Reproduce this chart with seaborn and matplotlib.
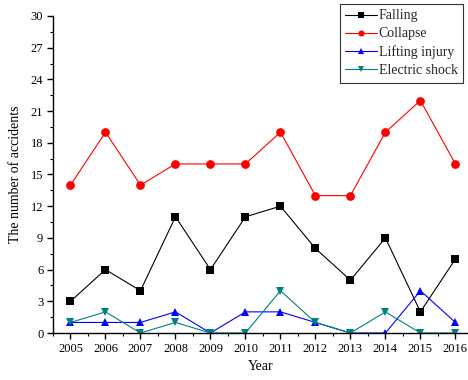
import matplotlib
matplotlib.use("Agg")
import matplotlib.pyplot as plt
from matplotlib.ticker import MultipleLocator
import pandas as pd
import seaborn as sns

years = list(range(2005, 2017))
falling = [3, 6, 4, 11, 6, 11, 12, 8, 5, 9, 2, 7]
collapse = [14, 19, 14, 16, 16, 16, 19, 13, 13, 19, 22, 16]
lifting = [1, 1, 1, 2, 0, 2, 2, 1, 0, 0, 4, 1]
electric = [1, 2, 0, 1, 0, 0, 4, 1, 0, 2, 0, 0]

series_names = ["Falling", "Collapse", "Lifting injury", "Electric shock"]
series_values = [falling, collapse, lifting, electric]

frames = []
for name, vals in zip(series_names, series_values):
    frames.append(pd.DataFrame({"Year": years, "Accidents": vals, "Type": name}))
df = pd.concat(frames, ignore_index=True)

sns.set_theme(style="white")
plt.rcParams["font.family"] = ["Liberation Serif", "DejaVu Serif"]

palette = {"Falling": "#000000", "Collapse": "#ff0000",
           "Lifting injury": "#0000ff", "Electric shock": "#008080"}
markers = {"Falling": "s", "Collapse": "o",
           "Lifting injury": "^", "Electric shock": "v"}

fig = plt.figure(figsize=(4.68, 3.80), dpi=100)
ax = fig.add_axes([53 / 468, 47 / 380, 1 - 53 / 468, (333 - 16) / 380])

sns.lineplot(data=df, x="Year", y="Accidents", hue="Type", style="Type",
             hue_order=series_names, style_order=series_names,
             palette=palette, markers=markers, dashes=False,
             markersize=6.3, markeredgewidth=0, linewidth=0.8, ax=ax)

ax.set_xlim(2004.5, 2016.36)
ax.set_ylim(0, 30)
ax.xaxis.set_major_locator(MultipleLocator(1))
ax.xaxis.set_minor_locator(MultipleLocator(0.5))
ax.yaxis.set_major_locator(MultipleLocator(3))
ax.yaxis.set_minor_locator(MultipleLocator(1.5))

for s in ["top", "right"]:
    ax.spines[s].set_visible(False)
for s in ["left", "bottom"]:
    ax.spines[s].set_color("#000000")
    ax.spines[s].set_linewidth(1.0)

ax.tick_params(axis="both", which="major", direction="out", length=4,
               width=1.0, color="#000000", labelsize=9, labelcolor="#000000",
               bottom=True, left=True, pad=3)
ax.tick_params(axis="both", which="minor", direction="out", length=2.5,
               width=0.8, color="#000000", bottom=True, left=True)

ax.set_xlabel("Year", fontsize=10, color="#000000", labelpad=4)
ax.set_ylabel("The number of accidents", fontsize=10, color="#000000", labelpad=6)

leg = ax.legend(title=None, loc="upper right", bbox_to_anchor=(0.995, 1.047),
                fontsize=10, frameon=True, fancybox=False, edgecolor="#000000",
                handlelength=2.3, handletextpad=0.1, borderpad=0.4,
                labelspacing=0.36, borderaxespad=0.2, markerscale=0.7)
leg.get_frame().set_linewidth(0.8)

fig.savefig("out.png", dpi=100)
